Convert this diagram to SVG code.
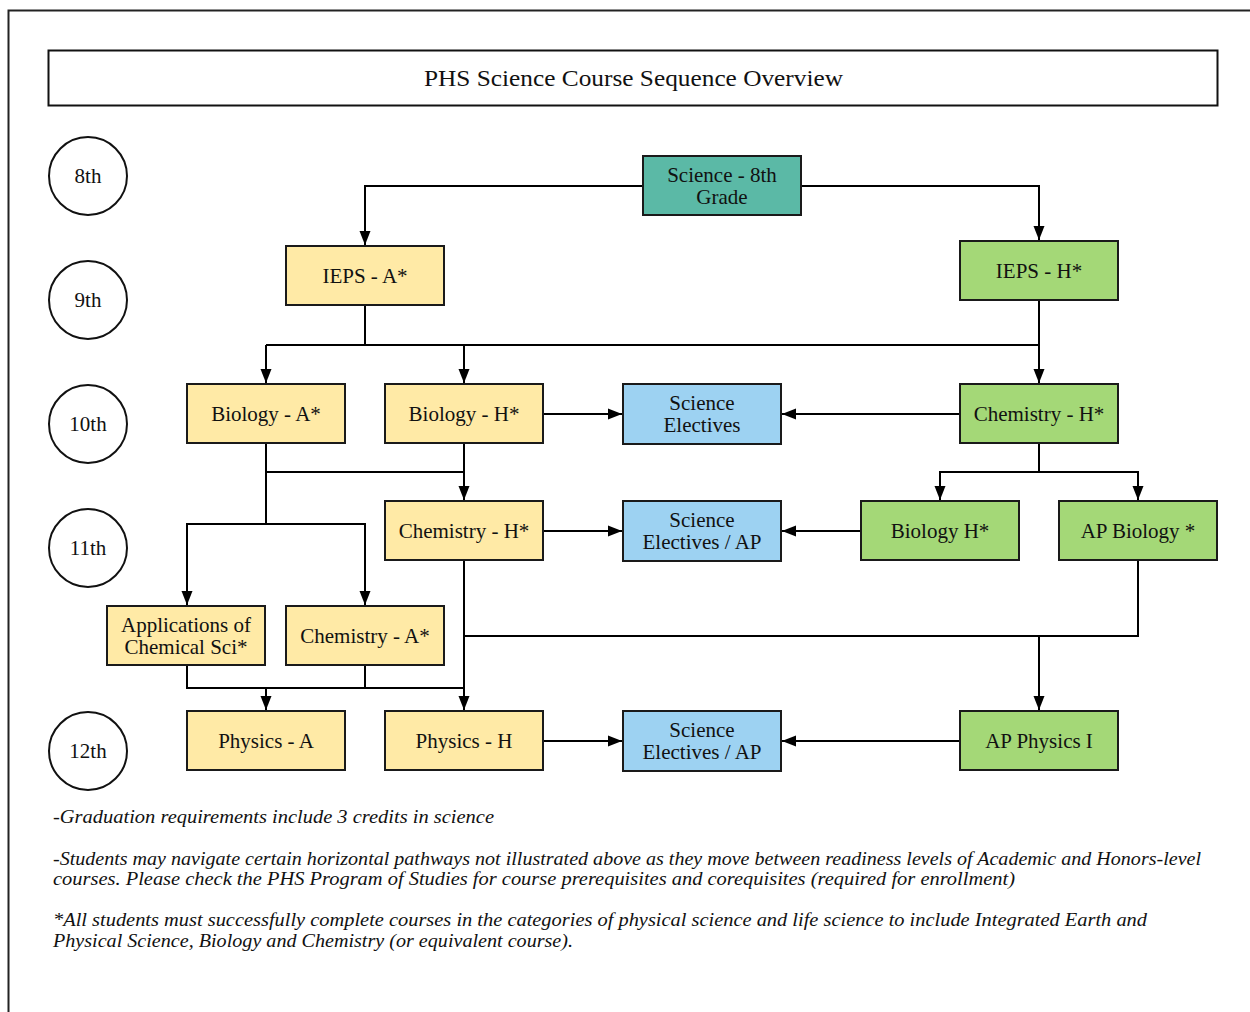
<svg xmlns="http://www.w3.org/2000/svg" width="1250" height="1012" viewBox="0 0 1250 1012">
<style>
.node rect{stroke:#1a1a1a;stroke-width:2}
.y{fill:#ffeaa6}.g{fill:#a4d877}.b{fill:#9dd2f2}.t{fill:#5bb9a6}
text{font-family:"Liberation Serif","DejaVu Serif",serif;fill:#111}
.lbl{font-size:21px;text-anchor:middle}
.grade circle{fill:#fff;stroke:#111;stroke-width:2}
.note{font-size:18px;font-style:italic}
#connectors path{fill:none;stroke:#000;stroke-width:2}
</style>
<defs>
<marker id="ah" markerUnits="userSpaceOnUse" markerWidth="14" markerHeight="14" viewBox="0 0 14 14" refX="14" refY="7" orient="auto">
<path d="M0,1.5 L14,7 L0,12.5 Z" fill="#000"/>
</marker>
</defs>
<rect width="1250" height="1012" fill="#fff"/>
<path d="M1250,10.5 H8.5 V1012" fill="none" stroke="#222" stroke-width="2"/>
<g id="title">
<rect x="48.5" y="50.5" width="1169" height="55" fill="#fff" stroke="#111" stroke-width="2"/>
<text x="424" y="86" font-size="24" textLength="419" lengthAdjust="spacingAndGlyphs">PHS Science Course Sequence Overview</text>
</g>
<g id="grades" class="grade">
<g id="g8"><circle cx="88" cy="176" r="39"/><text x="88" y="183" class="lbl">8th</text></g>
<g id="g9"><circle cx="88" cy="300" r="39"/><text x="88" y="307" class="lbl">9th</text></g>
<g id="g10"><circle cx="88" cy="424" r="39"/><text x="88" y="431" class="lbl">10th</text></g>
<g id="g11"><circle cx="88" cy="548" r="39"/><text x="88" y="555" class="lbl">11th</text></g>
<g id="g12"><circle cx="88" cy="751" r="39"/><text x="88" y="758" class="lbl">12th</text></g>
</g>
<g id="connectors">
<path d="M643,186 H365 V245" marker-end="url(#ah)"/>
<path d="M801,186 H1039 V240" marker-end="url(#ah)"/>
<path d="M365,305 V345"/>
<path d="M266,345 H1039"/>
<path d="M266,345 V383" marker-end="url(#ah)"/>
<path d="M464,345 V383" marker-end="url(#ah)"/>
<path d="M1039,300 V383" marker-end="url(#ah)"/>
<path d="M543,414 H622" marker-end="url(#ah)"/>
<path d="M960,414 H782" marker-end="url(#ah)"/>
<path d="M266,443 V524"/>
<path d="M266,472 H464"/>
<path d="M464,443 V500" marker-end="url(#ah)"/>
<path d="M266,524 H187 V605" marker-end="url(#ah)"/>
<path d="M266,524 H365 V605" marker-end="url(#ah)"/>
<path d="M543,531 H622" marker-end="url(#ah)"/>
<path d="M861,531 H782" marker-end="url(#ah)"/>
<path d="M1039,443 V472"/>
<path d="M1039,472 H940 V500" marker-end="url(#ah)"/>
<path d="M1039,472 H1138 V500" marker-end="url(#ah)"/>
<path d="M464,560 V710" marker-end="url(#ah)"/>
<path d="M464,636 H1138 V560"/>
<path d="M1039,636 V710" marker-end="url(#ah)"/>
<path d="M187,665 V688 H464"/>
<path d="M365,665 V688"/>
<path d="M266,688 V710" marker-end="url(#ah)"/>
<path d="M543,741 H622" marker-end="url(#ah)"/>
<path d="M960,741 H782" marker-end="url(#ah)"/>
</g>
<g id="n-sci8" class="node"><rect class="t" x="643" y="156" width="158" height="59"/><text class="lbl" x="722" y="182">Science - 8th</text><text class="lbl" x="722" y="204">Grade</text></g>
<g id="n-iepsA" class="node"><rect class="y" x="286" y="246" width="158" height="59"/><text class="lbl" x="365" y="283">IEPS - A*</text></g>
<g id="n-iepsH" class="node"><rect class="g" x="960" y="241" width="158" height="59"/><text class="lbl" x="1039" y="278">IEPS - H*</text></g>
<g id="n-bioA" class="node"><rect class="y" x="187" y="384" width="158" height="59"/><text class="lbl" x="266" y="421">Biology - A*</text></g>
<g id="n-bioH" class="node"><rect class="y" x="385" y="384" width="158" height="59"/><text class="lbl" x="464" y="421">Biology - H*</text></g>
<g id="n-se1" class="node"><rect class="b" x="623" y="384" width="158" height="60"/><text class="lbl" x="702" y="410">Science</text><text class="lbl" x="702" y="432">Electives</text></g>
<g id="n-chemHg" class="node"><rect class="g" x="960" y="384" width="158" height="59"/><text class="lbl" x="1039" y="421">Chemistry - H*</text></g>
<g id="n-chemHy" class="node"><rect class="y" x="385" y="501" width="158" height="59"/><text class="lbl" x="464" y="538">Chemistry - H*</text></g>
<g id="n-se2" class="node"><rect class="b" x="623" y="501" width="158" height="60"/><text class="lbl" x="702" y="527">Science</text><text class="lbl" x="702" y="549">Electives / AP</text></g>
<g id="n-bioHg" class="node"><rect class="g" x="861" y="501" width="158" height="59"/><text class="lbl" x="940" y="538">Biology H*</text></g>
<g id="n-apbio" class="node"><rect class="g" x="1059" y="501" width="158" height="59"/><text class="lbl" x="1138" y="538">AP Biology *</text></g>
<g id="n-appchem" class="node"><rect class="y" x="107" y="606" width="158" height="59"/><text class="lbl" x="186" y="632">Applications of</text><text class="lbl" x="186" y="654">Chemical Sci*</text></g>
<g id="n-chemA" class="node"><rect class="y" x="286" y="606" width="158" height="59"/><text class="lbl" x="365" y="643">Chemistry - A*</text></g>
<g id="n-physA" class="node"><rect class="y" x="187" y="711" width="158" height="59"/><text class="lbl" x="266" y="748">Physics - A</text></g>
<g id="n-physH" class="node"><rect class="y" x="385" y="711" width="158" height="59"/><text class="lbl" x="464" y="748">Physics - H</text></g>
<g id="n-se3" class="node"><rect class="b" x="623" y="711" width="158" height="60"/><text class="lbl" x="702" y="737">Science</text><text class="lbl" x="702" y="759">Electives / AP</text></g>
<g id="n-apphys" class="node"><rect class="g" x="960" y="711" width="158" height="59"/><text class="lbl" x="1039" y="748">AP Physics I</text></g>
<g id="notes">
<text class="note" x="53" y="823" textLength="441" lengthAdjust="spacingAndGlyphs">-Graduation requirements include 3 credits in science</text>
<text class="note" x="53" y="865" textLength="1148" lengthAdjust="spacingAndGlyphs">-Students may navigate certain horizontal pathways not illustrated above as they move between readiness levels of Academic and Honors-level</text>
<text class="note" x="53" y="885" textLength="962" lengthAdjust="spacingAndGlyphs">courses. Please check the PHS Program of Studies for course prerequisites and corequisites (required for enrollment)</text>
<text class="note" x="53" y="926" textLength="1094" lengthAdjust="spacingAndGlyphs">*All students must successfully complete courses in the categories of physical science and life science to include Integrated Earth and</text>
<text class="note" x="53" y="947" textLength="520" lengthAdjust="spacingAndGlyphs">Physical Science, Biology and Chemistry (or equivalent course).</text>
</g>
</svg>
